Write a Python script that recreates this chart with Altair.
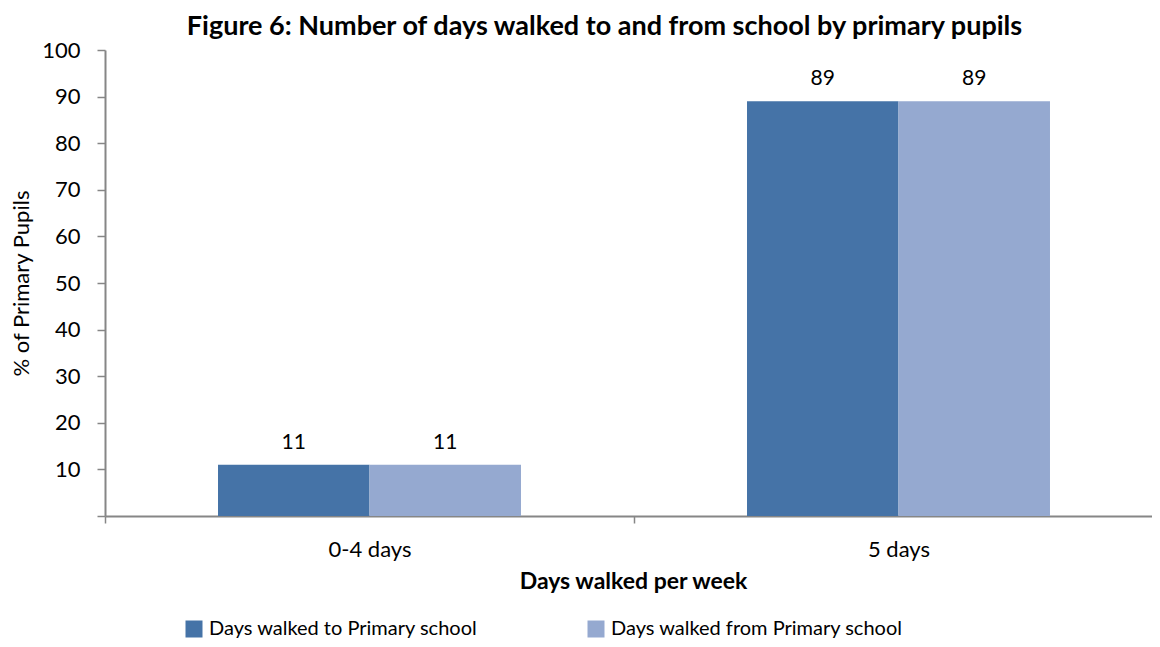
import altair as alt
import pandas as pd

categories = ["0-4 days", "5 days"]
series = ["Days walked to Primary school", "Days walked from Primary school"]
to_values = [11, 89]
from_values = [11, 89]
colors = ["#4573A7", "#95A9D0"]
y_ticks = [0, 10, 20, 30, 40, 50, 60, 70, 80, 90, 100]

rows = []
for c, v in zip(categories, to_values):
    rows.append({"days": c, "series": series[0], "value": v})
for c, v in zip(categories, from_values):
    rows.append({"days": c, "series": series[1], "value": v})
df = pd.DataFrame(rows)

FONT = "Lato"
AX = "#868686"

base = alt.Chart(df).encode(
    x=alt.X(
        "days:N",
        sort=categories,
        scale=alt.Scale(paddingInner=0, paddingOuter=0, range=[0, 1058]),
        axis=alt.Axis(
            title="Days walked per week",
            labelAngle=0,
            tickBand="extent",
            tickSize=7,
            tickColor=AX,
            tickWidth=1.5,
            domainColor=AX,
            domainWidth=2,
            labelFont=FONT,
            labelFontSize=22,
            labelColor="#000000",
            labelPadding=16,
            titleFont=FONT,
            titleFontSize=23,
            titleFontWeight="bold",
            titleColor="#000000",
            titlePadding=10,
            titleX=528,
        ),
    ),
    xOffset=alt.XOffset(
        "series:N", sort=series, scale=alt.Scale(paddingInner=0, paddingOuter=0.746)
    ),
    y=alt.Y(
        "value:Q",
        scale=alt.Scale(domain=[0, 100], nice=False),
        axis=alt.Axis(
            title="% of Primary Pupils",
            values=y_ticks,
            grid=False,
            tickSize=8,
            tickColor=AX,
            tickWidth=1.5,
            domainColor=AX,
            domainWidth=2,
            labelFont=FONT,
            labelFontSize=22,
            labelColor="#000000",
            labelPadding=17,
            labelExpr="datum.value == 0 ? '' : datum.label",
            titleFont=FONT,
            titleFontSize=22,
            titleFontWeight="normal",
            titleColor="#000000",
            titlePadding=8,
        ),
    ),
)

bars = base.mark_bar().encode(
    color=alt.Color(
        "series:N",
        sort=series,
        scale=alt.Scale(domain=series, range=colors),
        legend=alt.Legend(
            title=None,
            orient="none",
            direction="horizontal",
            legendX=79,
            legendY=569,
            symbolType="square",
            symbolSize=289,
            symbolStrokeWidth=0,
            symbolOpacity=1,
            labelFont=FONT,
            labelFontSize=20,
            labelColor="#000000",
            labelOffset=5,
            columnPadding=108,
            labelLimit=500,
        ),
    )
)

labels = base.mark_text(
    baseline="bottom", dy=-12, font=FONT, fontSize=21, color="#000000"
).encode(text="value:Q", detail="series:N")

chart = (
    alt.layer(bars, labels)
    .properties(
        width=1047,
        height=466,
        autosize=alt.AutoSizeParams(type="none"),
        padding={"left": 97, "top": 42, "right": 0, "bottom": 123},
        title=alt.TitleParams(
            "Figure 6: Number of days walked to and from school by primary pupils",
            font=FONT,
            fontSize=27,
            fontWeight="bold",
            color="#000000",
            anchor="middle",
            baseline="bottom",
            offset=0,
            dy=29,
            dx=-24,
        ),
    )
    .configure_view(stroke=None)
)

chart.save("out.html", embed_options={"renderer": "svg", "actions": False})
